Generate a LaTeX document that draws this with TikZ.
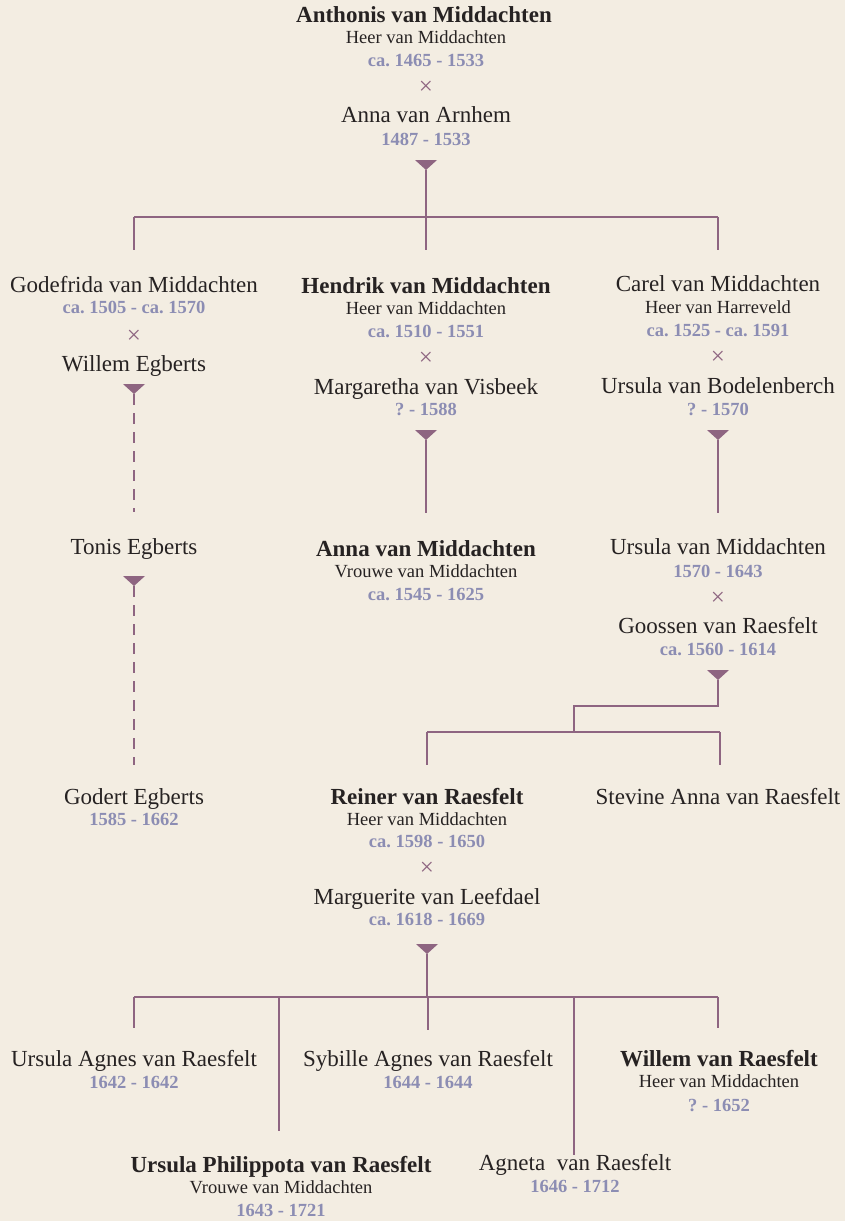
\documentclass[tikz,border=0pt]{standalone}
\usepackage{fontspec}
\setmainfont{Liberation Serif}
\definecolor{bg}{HTML}{F3EDE2}
\definecolor{ln}{HTML}{8E6581}
\definecolor{dt}{HTML}{8C8DB3}
\definecolor{tx}{HTML}{262222}
\frenchspacing
\begin{document}
\begin{tikzpicture}[x=1pt,y=-1pt,
 nm/.style={font=\fontsize{23}{26}\selectfont, text=tx, inner sep=0, anchor=base},
 nmb/.style={nm, font=\fontsize{23}{26}\selectfont\bfseries},
 sub/.style={font=\fontsize{18.5}{21}\selectfont, text=tx, inner sep=0, anchor=base},
 dat/.style={font=\fontsize{18.5}{21}\selectfont\bfseries, text=dt, inner sep=0, anchor=base},
 mx/.style={font=\fontsize{25}{25}\selectfont, text=ln, inner sep=0},
 con/.style={draw=ln, line width=2pt},
 dcon/.style={con, dash pattern=on 11pt off 8pt},
 tri/.style={fill=ln}]
\fill[bg] (0,0) rectangle (845,1221);
\useasboundingbox (0,0) rectangle (845,1221);
\newcommand{\mktri}[1]{\fill[ln] ([xshift=-11pt,yshift=10pt]#1) -- ([xshift=11pt,yshift=10pt]#1) -- (#1) -- cycle;}
% generation 1
\node[nmb] (anth) at (424,22) {Anthonis van Middachten};
\node[sub] (anths) at (426,43) {Heer van Middachten};
\node[dat] (anthd) at (426,66) {ca. 1465 - 1533};
\node[mx] (x1) at (426,88) {×};
\node[nm] (anna) at (426,122) {Anna van Arnhem};
\node[dat] (annad) at (426,145) {1487 - 1533};
\coordinate (t1) at (426,170);
\mktri{t1}
\coordinate (h1) at (426,217);
\coordinate (h1l) at (134,217);
\coordinate (h1r) at (718,217);
\draw[con] (t1) -- (h1);
\draw[con] (h1l) -- (h1r);
\coordinate (d1a) at (134,250);
\coordinate (d1b) at (426,250);
\coordinate (d1c) at (718,250);
\draw[con] (d1a |- h1) -- (d1a);
\draw[con] (d1b |- h1) -- (d1b);
\draw[con] (d1c |- h1) -- (d1c);
% generation 2
\node[nm] (gode) at (134,292) {Godefrida van Middachten};
\node[dat] (goded) at (134,313) {ca. 1505 - ca. 1570};
\node[mx] (x2) at (134,337) {×};
\node[nm] (wile) at (134,371) {Willem Egberts};
\coordinate (t2) at (134,394);
\mktri{t2}
\node[nmb] (hend) at (426,293) {Hendrik van Middachten};
\node[sub] (hends) at (426,314) {Heer van Middachten};
\node[dat] (hendd) at (426,337) {ca. 1510 - 1551};
\node[mx] (x3) at (426,359) {×};
\node[nm] (marg) at (426,394) {Margaretha van Visbeek};
\node[dat] (margd) at (426,415) {? - 1588};
\coordinate (t3) at (426,440);
\mktri{t3}
\node[nm] (care) at (718,291) {Carel van Middachten};
\node[sub] (cares) at (718,313) {Heer van Harreveld};
\node[dat] (cared) at (718,336) {ca. 1525 - ca. 1591};
\node[mx] (x4) at (718,358) {×};
\node[nm] (ursb) at (718,393) {Ursula van Bodelenberch};
\node[dat] (ursbd) at (718,415) {? - 1570};
\coordinate (t4) at (718,440);
\mktri{t4}
\coordinate (e2) at (134,512);
\coordinate (e3) at (426,513);
\coordinate (e4) at (718,513);
\draw[dcon] (t2) -- (e2);
\draw[con] (t3) -- (e3);
\draw[con] (t4) -- (e4);
% generation 3
\node[nm] (toni) at (134,554) {Tonis Egberts};
\coordinate (t5) at (134,586);
\mktri{t5}
\coordinate (e5) at (134,765);
\draw[dcon] (t5) -- (e5);
\node[nmb] (annm) at (426,556) {Anna van Middachten};
\node[sub] (annms) at (426,577) {Vrouwe van Middachten};
\node[dat] (annmd) at (426,600) {ca. 1545 - 1625};
\node[nm] (ursm) at (718,554) {Ursula van Middachten};
\node[dat] (ursmd) at (718,577) {1570 - 1643};
\node[mx] (x5) at (718,599) {×};
\node[nm] (goos) at (718,633) {Goossen van Raesfelt};
\node[dat] (goosd) at (718,655) {ca. 1560 - 1614};
\coordinate (t6) at (718,680);
\mktri{t6}
\coordinate (k1) at (718,706);
\coordinate (k2) at (574,706);
\coordinate (k3) at (574,732);
\coordinate (h3l) at (427,732);
\coordinate (h3r) at (720,732);
\draw[con] (t6) -- (k1) -- (k2) -- (k3);
\draw[con] (h3l) -- (h3r);
\coordinate (d3a) at (427,765);
\coordinate (d3b) at (720,765);
\draw[con] (d3a |- h3l) -- (d3a);
\draw[con] (d3b |- h3l) -- (d3b);
% generation 4
\node[nm] (gode2) at (134,804) {Godert Egberts};
\node[dat] (gode2d) at (134,825) {1585 - 1662};
\node[nmb] (rein) at (427,804) {Reiner van Raesfelt};
\node[sub] (reins) at (427,825) {Heer van Middachten};
\node[dat] (reind) at (427,847) {ca. 1598 - 1650};
\node[mx] (x6) at (427,869) {×};
\node[nm] (marl) at (427,904) {Marguerite van Leefdael};
\node[dat] (marld) at (427,925) {ca. 1618 - 1669};
\coordinate (t7) at (427,954);
\mktri{t7}
\node[nm] (stev) at (718,804) {Stevine Anna van Raesfelt};
\coordinate (h4) at (427,997);
\coordinate (h4l) at (134,997);
\coordinate (h4r) at (718,997);
\draw[con] (t7) -- (h4);
\draw[con] (h4l) -- (h4r);
\coordinate (d4a) at (134,1028);
\coordinate (d4b) at (279,1131);
\coordinate (d4c) at (428,1030);
\coordinate (d4d) at (574,1155);
\coordinate (d4e) at (718,1028);
\draw[con] (d4a |- h4) -- (d4a);
\draw[con] (d4b |- h4) -- (d4b);
\draw[con] (d4c |- h4) -- (d4c);
\draw[con] (d4d |- h4) -- (d4d);
\draw[con] (d4e |- h4) -- (d4e);
% generation 5
\node[nm] (ursa) at (134,1066) {Ursula Agnes van Raesfelt};
\node[dat] (ursad) at (134,1088) {1642 - 1642};
\node[nm] (sybi) at (428,1066) {Sybille Agnes van Raesfelt};
\node[dat] (sybid) at (428,1088) {1644 - 1644};
\node[nmb] (wilr) at (719,1066) {Willem van Raesfelt};
\node[sub] (wilrs) at (719,1087) {Heer van Middachten};
\node[dat] (wilrd) at (719,1111) {? - 1652};
\node[nmb] (ursp) at (281,1172) {Ursula Philippota van Raesfelt};
\node[sub] (ursps) at (281,1193) {Vrouwe van Middachten};
\node[dat] (urspd) at (281,1216) {1643 - 1721};
\node[nm] (agne) at (575,1170) {Agneta\ \ van Raesfelt};
\node[dat] (agned) at (575,1192) {1646 - 1712};
\end{tikzpicture}
\end{document}
